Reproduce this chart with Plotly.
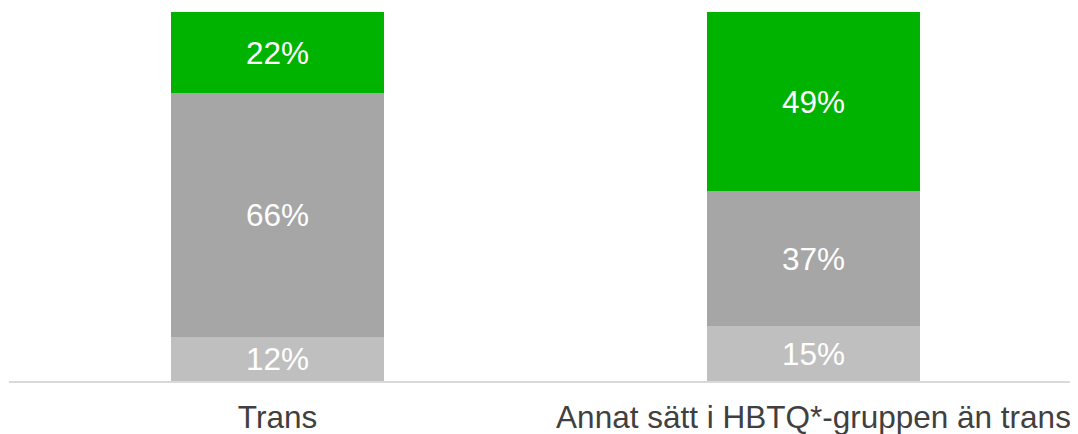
import plotly.graph_objects as go

categories = ["Trans", "Annat sätt i HBTQ*-gruppen än trans"]
series_names = ["Nedre", "Mitten", "Övre"]
bottom_vals = [12, 15]
middle_vals = [66, 37]
top_vals = [22, 49]
colors = ["#BFBFBF", "#A6A6A6", "#00B300"]

FS = 31.5

fig = go.Figure()
for name, vals, col in zip(series_names, [bottom_vals, middle_vals, top_vals], colors):
    fig.add_trace(go.Bar(
        x=categories, y=vals, name=name,
        marker=dict(color=col, line=dict(width=0)),
        text=[f"{v}%" for v in vals],
        textposition="inside", insidetextanchor="middle",
        textfont=dict(color="white", size=FS, family="Liberation Sans, Arial"),
        constraintext="none",
        width=0.397,
        hoverinfo="skip",
    ))

fig.update_layout(
    barmode="stack", barnorm="percent",
    width=1070, height=426,
    margin=dict(l=1, r=0, t=4, b=53),
    paper_bgcolor="white", plot_bgcolor="white",
    showlegend=False,
    uniformtext=dict(minsize=FS, mode="show"),
    font=dict(family="Liberation Sans, Arial", size=FS, color="#404040"),
    xaxis=dict(
        range=[-0.501, 1.4935], showgrid=False, zeroline=False,
        showline=True, linecolor="#D9D9D9", linewidth=2,
        ticks="", ticklabelstandoff=7,
        tickfont=dict(size=FS, color="#404040"),
    ),
    yaxis=dict(range=[0, 100], visible=False, showgrid=False, zeroline=False),
)

fig.write_html("out.html")
